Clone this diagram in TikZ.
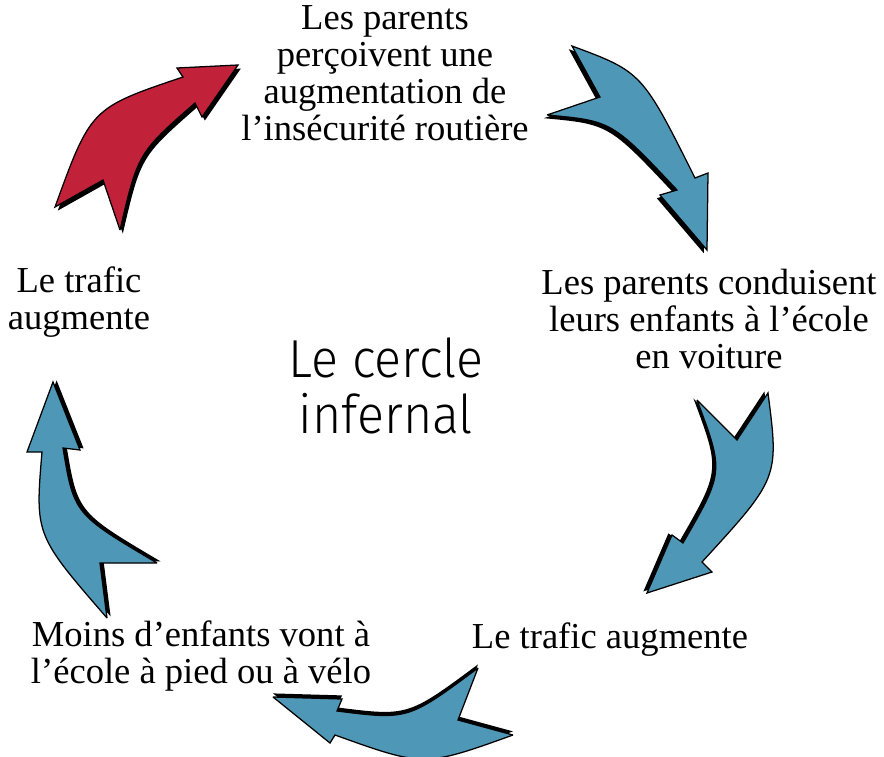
\documentclass[tikz,border=0pt]{standalone}
\usepackage{fontspec}
\setmainfont{Liberation Serif}
\newfontfamily\titlefont{Fira Sans Light}[FakeStretch=0.94]
\usetikzlibrary{shadows}
\definecolor{cycleblue}{HTML}{4F97B6}
\definecolor{cyclered}{HTML}{C2213A}
\tikzset{
	step text/.style={align=center, inner sep=0pt, font=\fontsize{26}{26.3}\selectfont},
	title text/.style={align=center, inner sep=0pt, font=\titlefont\fontsize{38}{39.5}\selectfont},
	bluearrow/.style={fill=cycleblue, draw=black, line width=0.9pt, line join=miter, miter limit=3},
	redarrow/.style={fill=cyclered, draw=black, line width=0.9pt, line join=miter, miter limit=3}
}
\begin{document}
\begin{tikzpicture}[x=0.025cm,y=-0.025cm]
		\useasboundingbox (0,0) rectangle (884,757);
		%%% the five steps
		\node[step text] (percoivent) at (385,73) {Les parents\\perçoivent une\\augmentation de\\l’insécurité routière};
		\node[step text] (conduisent) at (709,319) {Les parents conduisent\\leurs enfants à l’école\\en voiture};
		\node[step text] (trafic) at (610,640) {Le trafic augmente};
		\node[step text] (moins) at (201,656) {Moins d’enfants vont à\\l’école à pied ou à vélo};
		\node[step text] (augmente) at (79,302) {Le trafic\\augmente};
		\node[title text] (titre) at (386,386) {Le cercle\\infernal};
		
		%%% arrows
		\path[bluearrow, drop shadow={shadow xshift=-0.08cm, shadow yshift=-0.08cm, opacity=1, fill=black}]
		(572,46) -- (600,97) -- (547,115) .. controls (612,121) .. (677,190) -- (660,195) -- (707,250)
		-- (708,173) -- (695,178) .. controls (642,72) .. (572,46) -- cycle;
		
		\path[bluearrow, drop shadow={shadow xshift=-0.09cm, shadow yshift=0.04cm, opacity=1, fill=black}]
		(697,400) -- (737,440) -- (768,393) .. controls (779,478) .. (702,562) -- (712,572) -- (647,593)
		-- (672,535) -- (683,543) .. controls (724,472) .. (697,400) -- cycle;
		
		\path[bluearrow, drop shadow={shadow xshift=0cm, shadow yshift=0.09cm, opacity=1, fill=black}]
		(478,668) -- (458,720) -- (513,735) .. controls (424,767) .. (335,735) -- (330,743) -- (273,697)
		-- (342,699) -- (337,711) .. controls (408,720) .. (478,668) -- cycle;
		
		\path[bluearrow, drop shadow={shadow xshift=0.09cm, shadow yshift=0.04cm, opacity=1, fill=black}]
		(157,563) -- (100,563) -- (107,618) .. controls (35,535) .. (42,452) -- (27,452) -- (53,382)
		-- (80,450) -- (63,448) .. controls (74,514) .. (157,563) -- cycle;
		
		\path[redarrow, drop shadow={shadow xshift=0.07cm, shadow yshift=-0.09cm, opacity=1, fill=black}]
		(55,207) -- (103,180) -- (120,230) .. controls (138,153) .. (195,103) -- (202,117) -- (238,65)
		-- (177,68) -- (183,77) .. controls (91,108) .. (55,207) -- cycle;
	\end{tikzpicture}
\end{document}
